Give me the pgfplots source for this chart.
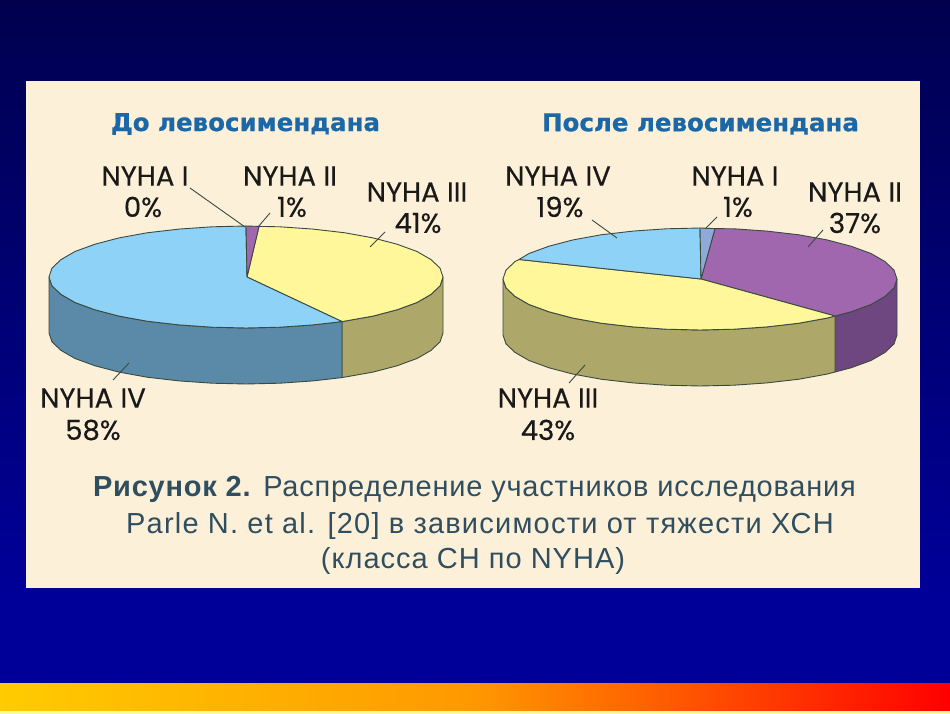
\documentclass[border=0pt]{standalone}
\usepackage{pgfplots}
\pgfplotsset{compat=1.18}
\usepackage{fontspec}
\setmainfont{Liberation Sans}
\newfontfamily\lab[FakeBold=0.4]{Poppins}
\newfontfamily\ttl[BoldFeatures={FakeBold=0.6}]{DejaVu Sans}
\definecolor{cream}{HTML}{FDF0D9}
\definecolor{ly}{HTML}{FFF79A}
\definecolor{lyd}{HTML}{ADA869}
\definecolor{lb}{HTML}{8ED3F7}
\definecolor{lbd}{HTML}{5A8AA8}
\definecolor{pu}{HTML}{A066AE}
\definecolor{pud}{HTML}{6E4680}
\definecolor{st}{HTML}{8FA9D8}
\definecolor{edge}{HTML}{3A4A40}
\definecolor{ttlc}{HTML}{1A68A8}
\definecolor{capc}{HTML}{2F4E60}
\definecolor{barl}{HTML}{FFCC00}
\definecolor{barm}{HTML}{FF9800}
\newcommand{\lb}[3]{\node[text=black!90,inner sep=0pt,anchor=center] at (axis cs:#1,#2) {\lab\fontsize{27.5}{27.5}\selectfont #3};}
\newcommand{\leader}[4]{\draw[edge,line width=0.9pt] (axis cs:#1,#2) -- (axis cs:#3,#4);}
\begin{document}
\begin{tikzpicture}
\begin{axis}[width=950pt,height=714pt,scale only axis,hide axis,clip=false,
  xmin=0,xmax=950,ymin=0,ymax=714,y dir=reverse,
  every axis plot/.append style={no markers,sharp plot,line width=0.9pt,draw=edge,line join=round}]
\shade[top color=black!0!blue!31!black,bottom color=blue!60!black] (axis cs:0,0) rectangle (axis cs:950,600);
\fill[blue!60!black] (axis cs:0,600) rectangle (axis cs:950,683);
\shade[left color=barl,right color=red,middle color=barm] (axis cs:0,683) rectangle (axis cs:950,711);
\fill[yellow!40!white] (axis cs:0,711) rectangle (axis cs:950,714);
\fill[cream] (axis cs:26,81) rectangle (axis cs:920,588);
% left pie, sides
\addplot[fill=lyd] coordinates {(342,321.6)(373,316.1)(397,309.8)(417,302.5)(431,294.4)(440,285.9)(443,277)(443,333)(440,341.9)(431,350.4)(417,358.5)(397,365.8)(373,372.1)(342,377.6)(342,321.6)};
\addplot[fill=lbd] coordinates {(342,321.6)(313,324.9)(280,327.2)(246,328)(212,327.2)(179,324.9)(147,321.2)(119,316.1)(95,309.8)(75,302.5)(61,294.4)(52,285.9)(49,277)(49,333)(52,341.9)(61,350.4)(75,358.5)(95,365.8)(119,372.1)(147,377.2)(179,380.9)(212,383.2)(246,384)(280,383.2)(313,380.9)(342,377.6)(342,321.6)};
% left pie, top
\addplot[fill=ly] coordinates {(247,277)(259,226.4)(280,226.8)(313,229.1)(345,232.8)(373,237.9)(397,244.2)(417,251.5)(431,259.6)(440,268.1)(443,277)(440,285.9)(431,294.4)(417,302.5)(397,309.8)(373,316.1)(342,321.6)(247,277)};
\addplot[fill=lb] coordinates {(247,277)(342,321.6)(313,324.9)(280,327.2)(246,328)(212,327.2)(179,324.9)(147,321.2)(119,316.1)(95,309.8)(75,302.5)(61,294.4)(52,285.9)(49,277)(52,268.1)(61,259.6)(75,251.5)(95,244.2)(119,237.9)(147,232.8)(179,229.1)(212,226.8)(246,226)(247,277)};
\addplot[fill=pu] coordinates {(247,277)(246,226)(259,226.4)(247,277)};
% right pie, sides
\addplot[fill=pud] coordinates {(835,316)(851,311.8)(871,304.5)(885,296.4)(894,287.9)(897,279)(897,335)(894,343.9)(885,352.4)(871,360.5)(851,367.8)(835,372)(835,316)};
\addplot[fill=lyd] coordinates {(835,316)(827,318.1)(799,323.2)(767,326.9)(734,329.2)(700,330)(666,329.2)(633,326.9)(601,323.2)(573,318.1)(549,311.8)(529,304.5)(515,296.4)(506,287.9)(503,279)(503,335)(506,343.9)(515,352.4)(529,360.5)(549,367.8)(573,374.1)(601,379.2)(633,382.9)(666,385.2)(700,386)(734,385.2)(767,382.9)(799,379.2)(827,374.1)(835,372)(835,316)};
% right pie, top
\addplot[fill=pu] coordinates {(701,279)(715,228.6)(734,228.8)(767,231.1)(799,234.8)(827,239.9)(851,246.2)(871,253.5)(885,261.6)(894,270.1)(897,279)(894,287.9)(885,296.4)(871,304.5)(851,311.8)(835,316)(701,279)};
\addplot[fill=ly] coordinates {(701,279)(835,316)(827,318.1)(799,323.2)(767,326.9)(734,329.2)(700,330)(666,329.2)(633,326.9)(601,323.2)(573,318.1)(549,311.8)(529,304.5)(515,296.4)(506,287.9)(503,279)(506,270.1)(515,261.6)(519,259.5)(701,279)};
\addplot[fill=lb] coordinates {(701,279)(519,259.5)(529,253.5)(549,246.2)(573,239.9)(601,234.8)(633,231.1)(666,228.8)(700,228)(701,279)};
\addplot[fill=st] coordinates {(701,279)(700,228)(715,228.6)(701,279)};
% leaders
\leader{190}{188}{245}{227}
\leader{270}{213}{258}{227}
\leader{385}{232}{370}{247}
\leader{129}{363}{113}{380}
\leader{592}{220}{617}{238}
\leader{717}{217}{705}{229}
\leader{823}{230}{808}{247}
\leader{585}{365}{569}{383}
% labels
\lb{145}{176}{NYHA I}\lb{143}{207}{0\%}
\lb{290}{176}{NYHA II}\lb{292}{207}{1\%}
\lb{417}{192}{NYHA III}\lb{418}{223}{41\%}
\lb{93}{398}{NYHA IV}\lb{93}{430}{58\%}
\lb{558}{176}{NYHA IV}\lb{560}{207}{19\%}
\lb{735}{176}{NYHA I}\lb{738}{207}{1\%}
\lb{855}{192}{NYHA II}\lb{855}{223}{37\%}
\lb{548}{398}{NYHA III}\lb{548}{430}{43\%}
% titles
\node[text=ttlc,inner sep=0pt] at (axis cs:245.5,124) {\ttl\bfseries\fontsize{24.5}{24.5}\selectfont До левосимендана};
\node[text=ttlc,inner sep=0pt] at (axis cs:700.5,124) {\ttl\bfseries\fontsize{24.5}{24.5}\selectfont После левосимендана};
% caption
\node[text=capc,inner sep=0pt] at (axis cs:474.5,489) {\fontsize{29}{29}\selectfont\addfontfeature{LetterSpace=2.7}\textbf{Рисунок 2.} Распределение участников исследования};
\node[text=capc,inner sep=0pt] at (axis cs:480,526) {\fontsize{29}{29}\selectfont\addfontfeature{LetterSpace=4.2}Parle N. et al. [20] в зависимости от тяжести ХСН};
\node[text=capc,inner sep=0pt] at (axis cs:473,561) {\fontsize{29}{29}\selectfont\addfontfeature{LetterSpace=3.5}(класса СН по NYHA)};
\end{axis}
\end{tikzpicture}
\end{document}
